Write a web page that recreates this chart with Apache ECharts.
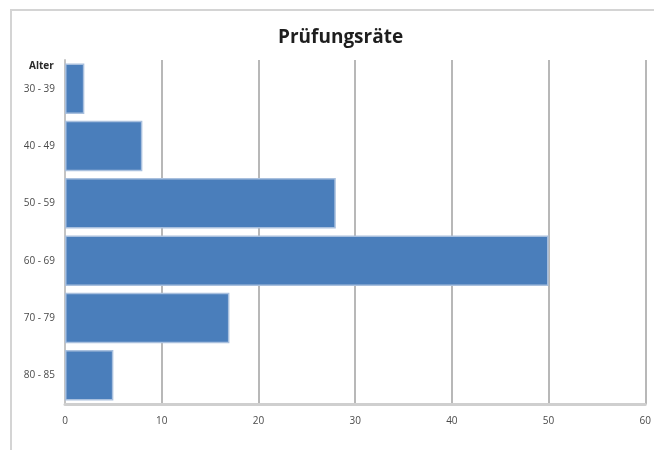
<!DOCTYPE html>
<html>
<head>
<meta charset="utf-8">
<script src="https://cdn.jsdelivr.net/npm/echarts@6/dist/echarts.min.js"></script>
<style>
  html, body { margin: 0; padding: 0; background: #ffffff; }
  #chart { width: 654px; height: 450px; }
</style>
</head>
<body>
<div id="chart"></div>
<script>
// Age groups and their test rates
const ageGroups = ['30 - 39', '40 - 49', '50 - 59', '60 - 69', '70 - 79', '80 - 85'];
const rates = [2, 8, 28, 50, 17, 5];
const xTicks = [0, 10, 20, 30, 40, 50, 60];

const chart = echarts.init(document.getElementById('chart'), null, { renderer: 'canvas' });

chart.setOption({
  backgroundColor: '#ffffff',
  animation: false,
  textStyle: { fontFamily: 'Open Sans' },
  graphic: [{
    type: 'rect',
    shape: { x: 11, y: 10, width: 660, height: 460 },
    style: { fill: 'none', stroke: '#d4d4d4', lineWidth: 2 },
    z: -1
  }],
  title: [{
    text: 'Prüfungsräte',
    left: 273,
    top: 23,
    textStyle: { fontFamily: 'Open Sans', fontSize: 19, fontWeight: 'bold', color: '#1e1e1e' }
  }, {
    text: 'Alter',
    left: 24,
    top: 56,
    textStyle: { fontFamily: 'Open Sans', fontSize: 10, fontWeight: 'bold', color: '#2a2a2a' }
  }],
  grid: { left: 65, right: 4, top: 60, bottom: 46 },
  xAxis: {
    type: 'value',
    min: xTicks[0],
    max: xTicks[xTicks.length - 1],
    interval: 10,
    axisLine: { show: true, lineStyle: { color: '#cfcfcf', width: 3 } },
    axisTick: { show: false },
    axisLabel: { color: '#4a4a4a', fontSize: 10, margin: 12 },
    splitLine: { show: true, lineStyle: { color: '#b8b8b8', width: 2 } }
  },
  yAxis: {
    type: 'category',
    data: ageGroups,
    inverse: true,
    axisLine: { show: true, lineStyle: { color: '#c4c4c4', width: 2 } },
    axisTick: { show: false },
    axisLabel: { color: '#4a4a4a', fontSize: 10, margin: 10 },
    splitLine: { show: false }
  },
  series: [{
    type: 'bar',
    data: rates,
    barCategoryGap: '12%',
    itemStyle: { color: '#4a7ebb', borderColor: '#a9c0de', borderWidth: 1.5 }
  }]
});
</script>
</body>
</html>
